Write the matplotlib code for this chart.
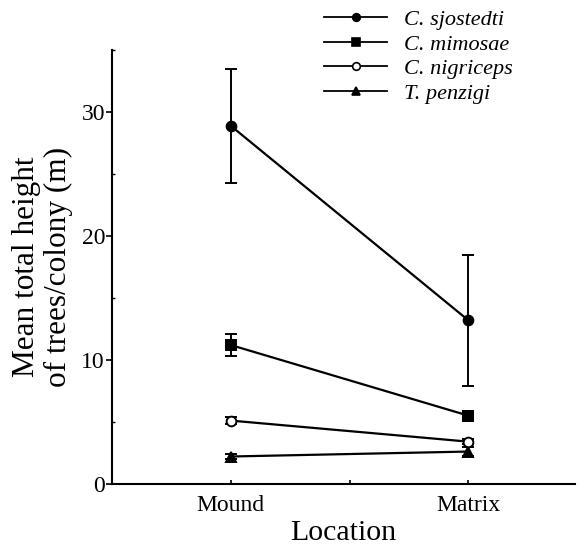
import matplotlib
matplotlib.use("Agg")
import matplotlib.pyplot as plt
from matplotlib.lines import Line2D
from matplotlib.ticker import MultipleLocator

locations = ["Mound", "Matrix"]
species = ["C. sjostedti", "C. mimosae", "C. nigriceps", "T. penzigi"]
sjostedti = [28.9, 13.2]
sjostedti_err = [4.6, 5.3]
mimosae = [11.2, 5.5]
mimosae_err = [0.9, 0.4]
nigriceps = [5.1, 3.4]
nigriceps_err = [0.3, 0.2]
penzigi = [2.2, 2.6]
penzigi_err = [0.2, 0.35]

plt.rcParams['font.family'] = ['Liberation Serif', 'DejaVu Serif']

fig = plt.figure(figsize=(5.79, 5.46), dpi=100)
ax = fig.add_axes([0.1934, 0.114, 0.80, 0.794])

xpos = [0.5, 1.5]
series = [
    (sjostedti, sjostedti_err, 'o', 'black', species[0]),
    (mimosae, mimosae_err, 's', 'black', species[1]),
    (nigriceps, nigriceps_err, 'o', 'white', species[2]),
    (penzigi, penzigi_err, '^', 'black', species[3]),
]
handles = []
for vals, errs, mk, fc, lab in series:
    ax.errorbar(xpos, vals, yerr=errs, color='black', lw=1.6, marker=mk,
                markersize=7, markerfacecolor=fc, markeredgecolor='black',
                markeredgewidth=1.4, capsize=4, elinewidth=1.4, capthick=1.4,
                zorder=3)
    handles.append(Line2D([], [], color='black', lw=1.3, marker=mk,
                          markersize=5.5, markerfacecolor=fc,
                          markeredgecolor='black', markeredgewidth=1.2,
                          label=lab))

ax.set_xlim(0, 1.95)
ax.set_ylim(0, 35)
ax.set_xticks([0.5, 1.0, 1.5])
ax.set_xticklabels(["Mound", "", "Matrix"])
ax.set_yticks([0, 10, 20, 30])
ax.yaxis.set_minor_locator(MultipleLocator(5))
for s in ['top', 'right']:
    ax.spines[s].set_visible(False)
for s in ['left', 'bottom']:
    ax.spines[s].set_linewidth(1.5)
ax.tick_params(axis='x', direction='in', length=3, width=1.2, labelsize=17, pad=8)
ax.tick_params(axis='y', which='major', direction='out', length=4, width=1.2,
               labelsize=17, pad=1)
ax.tick_params(axis='y', which='minor', direction='in', length=2.5, width=1.0)

ax.set_xlabel("Location", fontsize=21.5, labelpad=3)
ax.set_ylabel("Mean total height\nof trees/colony (m)", fontsize=22.5,
              labelpad=6, linespacing=1.12)

leg = fig.legend(handles=handles, loc='upper left',
                 bbox_to_anchor=(320/579, 1 - 5/546), frameon=False,
                 prop={'style': 'italic', 'size': 16}, handlelength=2.8,
                 handletextpad=0.8, labelspacing=0.18, borderpad=0.2,
                 borderaxespad=0)

fig.savefig("out.png", dpi=100)
